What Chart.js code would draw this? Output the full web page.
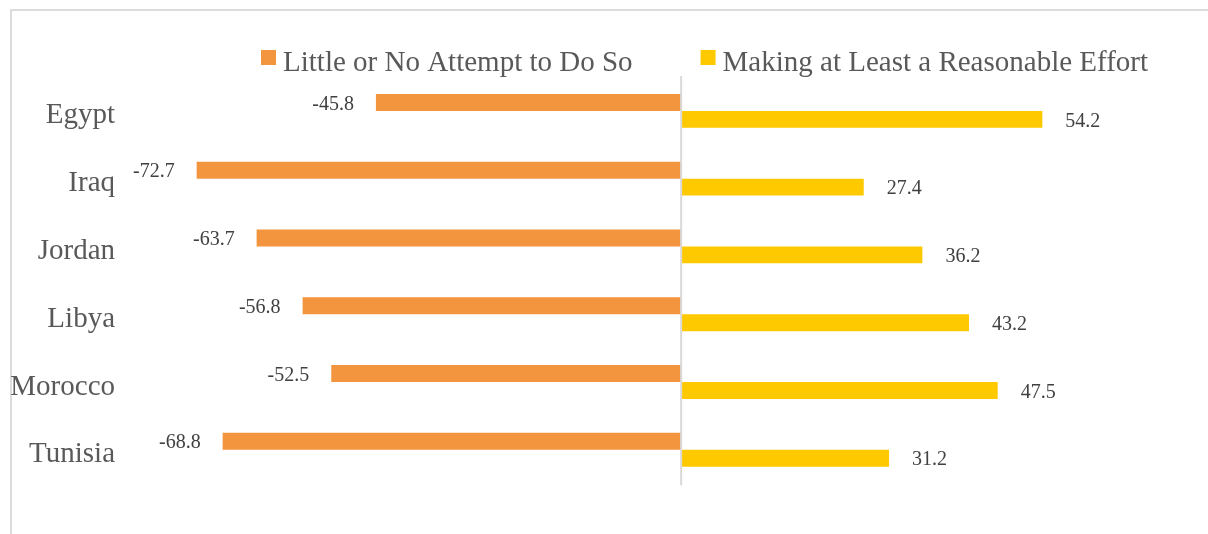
<!DOCTYPE html>
<html>
<head>
<meta charset="utf-8">
<script src="https://cdn.jsdelivr.net/npm/chart.js@4/dist/chart.umd.min.js"></script>
<style>
  html, body { margin: 0; padding: 0; background: #ffffff; }
  canvas { display: block; }
</style>
</head>
<body>
<canvas id="c" width="1208" height="534"></canvas>
<script>
const categories = ["Egypt", "Iraq", "Jordan", "Libya", "Morocco", "Tunisia"];
const seriesNames = ["Little or No Attempt to Do So", "Making at Least a Reasonable Effort"];
const littleEffort = [-45.8, -72.7, -63.7, -56.8, -52.5, -68.8];
const reasonableEffort = [54.2, 27.4, 36.2, 43.2, 47.5, 31.2];
const xMin = -80;
const xMax = 60;

const ORANGE = "#F3953F";
const YELLOW = "#FFC900";
const SERIF = "'Liberation Serif', 'Times New Roman', serif";

const frame = {
  id: "frame",
  beforeDraw(chart) {
    const ctx = chart.ctx;
    ctx.save();
    ctx.fillStyle = "#ffffff";
    ctx.fillRect(0, 0, chart.width, chart.height);
    ctx.strokeStyle = "#dcdcdc";
    ctx.lineWidth = 2;
    ctx.strokeRect(11, 10, chart.width + 100, chart.height + 100);
    ctx.restore();
  }
};

const zeroLine = {
  id: "zeroLine",
  afterDatasetsDraw(chart) {
    const ctx = chart.ctx;
    const x = chart.scales.x.getPixelForValue(0);
    ctx.save();
    ctx.strokeStyle = "#d9d9d9";
    ctx.lineWidth = 2;
    ctx.beginPath();
    ctx.moveTo(x, chart.chartArea.top - 1);
    ctx.lineTo(x, chart.chartArea.bottom + 2);
    ctx.stroke();
    ctx.restore();
  }
};

const valueLabels = {
  id: "valueLabels",
  afterDraw(chart) {
    const ctx = chart.ctx;
    ctx.save();
    ctx.font = "20px " + SERIF;
    ctx.fillStyle = "#404040";
    ctx.textBaseline = "middle";
    chart.data.datasets.forEach((ds, i) => {
      const meta = chart.getDatasetMeta(i);
      meta.data.forEach((bar, j) => {
        const v = ds.data[j];
        if (v < 0) {
          ctx.textAlign = "right";
          ctx.fillText(v.toFixed(1), bar.x - 22, bar.y + 2);
        } else {
          ctx.textAlign = "left";
          ctx.fillText(v.toFixed(1), bar.x + 23, bar.y + 2);
        }
      });
    });
    ctx.restore();
  }
};

const customLegend = {
  id: "customLegend",
  afterDraw(chart) {
    const ctx = chart.ctx;
    ctx.save();
    ctx.font = "29px " + SERIF;
    ctx.textBaseline = "alphabetic";
    ctx.textAlign = "left";
    const box = 15, gapText = 7, gapItem = 68;
    let x = 261;
    chart.data.datasets.forEach((ds) => {
      ctx.fillStyle = ds.backgroundColor;
      ctx.fillRect(x, 50, box, box);
      x += box + gapText;
      ctx.fillStyle = "#595959";
      ctx.fillText(ds.label, x, 71);
      x += ctx.measureText(ds.label).width + gapItem;
    });
    ctx.restore();
  }
};

new Chart(document.getElementById("c"), {
  type: "bar",
  data: {
    labels: categories,
    datasets: [
      { label: seriesNames[0], data: littleEffort, backgroundColor: ORANGE, borderWidth: 0,
        barPercentage: 1.0, categoryPercentage: 0.5 },
      { label: seriesNames[1], data: reasonableEffort, backgroundColor: YELLOW, borderWidth: 0,
        barPercentage: 1.0, categoryPercentage: 0.5 }
    ]
  },
  options: {
    indexAxis: "y",
    responsive: false,
    animation: false,
    devicePixelRatio: 1,
    layout: { padding: { top: 77, bottom: 49, left: 0, right: 127 } },
    plugins: {
      legend: { display: false },
      tooltip: { enabled: false }
    },
    scales: {
      x: {
        display: false,
        min: xMin,
        max: xMax
      },
      y: {
        grid: { display: false, drawTicks: false },
        border: { display: false },
        ticks: {
          color: "#595959",
          font: { family: SERIF, size: 29 },
          padding: 33,
          labelOffset: 5
        },
        afterFit(scale) { scale.width = 148; }
      }
    }
  },
  plugins: [frame, zeroLine, valueLabels, customLegend]
});
</script>
</body>
</html>
